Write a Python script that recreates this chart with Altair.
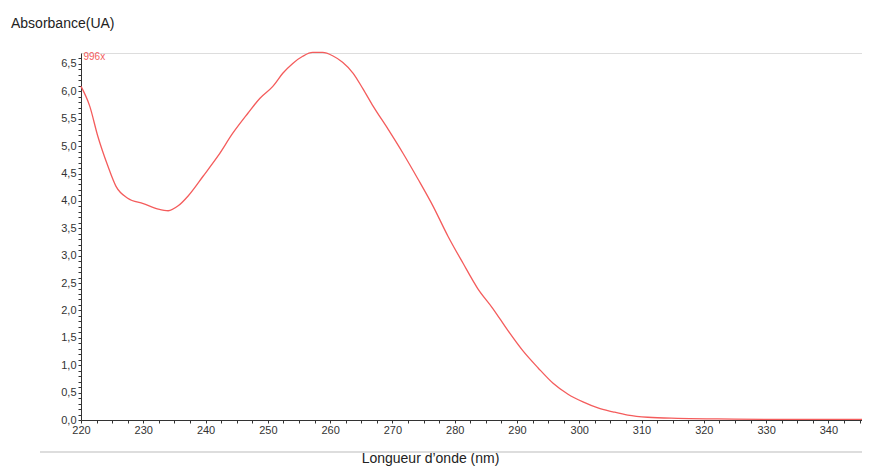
import altair as alt
import pandas as pd

wavelength = [220, 221.4, 222.7, 224.3, 225.6, 227.5, 230, 232.4, 234, 235.6, 237.2,
              239.6, 242, 244.4, 246.8, 248.7, 250.8, 252.4, 254, 255.6, 257.2, 258.8,
              260.4, 262, 263.7, 265.3, 266.9, 269.3, 271.7, 274.1, 276.5, 278.9, 281.3,
              283.7, 286.1, 288.5, 290.9, 293.4, 295.8, 298.2, 300.6, 303, 305.4, 307.8,
              311, 315.8, 322.2, 331.9, 345.4]
absorbance = [6.09, 5.73, 5.18, 4.64, 4.27, 4.05, 3.95, 3.85, 3.82, 3.91, 4.09,
              4.45, 4.82, 5.24, 5.60, 5.87, 6.09, 6.33, 6.51, 6.64, 6.71, 6.71,
              6.65, 6.53, 6.33, 6.04, 5.73, 5.31, 4.87, 4.40, 3.91, 3.36, 2.87,
              2.40, 2.04, 1.64, 1.27, 0.95, 0.67, 0.47, 0.33, 0.22, 0.15, 0.09,
              0.05, 0.03, 0.02, 0.01, 0.01]

x_ticks = [220 + 2.5 * i for i in range(51)]
y_ticks = [round(0.1 * i, 1) for i in range(67)]

df = pd.DataFrame({"wl": wavelength, "abs": absorbance})

FONT = "Liberation Sans"

x_scale = alt.Scale(domain=[220, 345.4], nice=False, zero=False)
y_scale = alt.Scale(domain=[0, 6.7], nice=False)

x_axis = alt.Axis(
    values=x_ticks,
    labelExpr="datum.value % 10 === 0 ? datum.value : ''",
    labelOverlap=False,
    labelFlush=False,
    grid=False,
    domainColor="#333333",
    tickColor="#333333",
    tickSize=3,
    labelColor="#333333",
    labelFont=FONT,
    labelFontSize=11,
    labelPadding=1,
    title="Longueur d\u2019onde (nm)",
    titleFont=FONT,
    titleFontSize=14,
    titleFontWeight="normal",
    titleColor="#222222",
    titleX=349,
    titleY=38,
    titleBaseline="middle",
)

y_axis = alt.Axis(
    values=y_ticks,
    labelExpr="round(datum.value * 10) % 5 === 0 ? replace(format(datum.value, '.1f'), '.', ',') : ''",
    labelOverlap=False,
    labelFlush=False,
    grid=False,
    domainColor="#333333",
    tickColor="#333333",
    tickSize=3,
    labelColor="#333333",
    labelFont=FONT,
    labelFontSize=11,
    labelPadding=2,
    title=None,
)

line = alt.Chart(df).mark_line(
    color="#f45c5c", strokeWidth=1.3, clip=False, interpolate="monotone"
).encode(
    x=alt.X("wl:Q", scale=x_scale, axis=x_axis),
    y=alt.Y("abs:Q", scale=y_scale, axis=y_axis),
)

label_df = pd.DataFrame({"wl": [220.4], "abs": [6.62], "t": ["996x"]})
label = alt.Chart(label_df).mark_text(
    color="#f45c5c", font=FONT, fontSize=10, align="left", baseline="middle"
).encode(
    x=alt.X("wl:Q", scale=x_scale, axis=x_axis),
    y=alt.Y("abs:Q", scale=y_scale, axis=y_axis),
    text="t:N",
)

sep_df = pd.DataFrame({"wl": [220], "abs": [0]})
sep = alt.Chart(sep_df).mark_rect(color="#dddddd", clip=False).encode(
    x=alt.value(-41), x2=alt.value(781), y=alt.value(398), y2=alt.value(400)
)

chart = alt.layer(line, label, sep).properties(
    width=781,
    height=367,
    padding={"left": 73, "top": 45, "right": 0, "bottom": 47},
    autosize=alt.AutoSizeParams(type="none"),
    title=alt.TitleParams(
        "Absorbance(UA)",
        anchor="start",
        frame="group",
        dx=-70,
        offset=19,
        font=FONT,
        fontSize=14,
        fontWeight="normal",
        color="#222222",
    ),
).configure_view(strokeWidth=0, stroke="transparent").configure_axis(
    gridOpacity=0
).configure(background="white")

chart.save("out.html", embed_options={"renderer": "svg", "actions": False})
